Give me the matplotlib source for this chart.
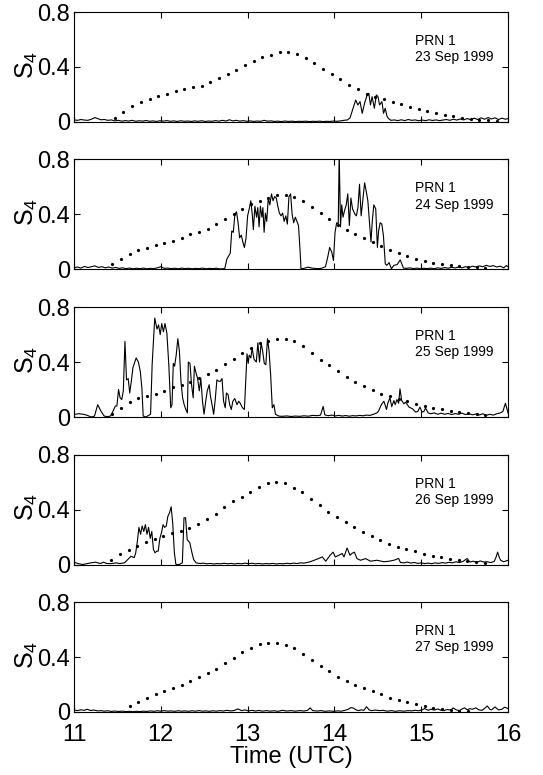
import numpy as np
import matplotlib
matplotlib.use("Agg")
import matplotlib.pyplot as plt

plt.rcParams["font.family"] = ["Liberation Sans", "DejaVu Sans"]
plt.rcParams["mathtext.fontset"] = "custom"
plt.rcParams["mathtext.rm"] = "Liberation Sans"

# -----------------------------
# Data
# -----------------------------
prn = "PRN 1"
dates = ["23 Sep 1999", "24 Sep 1999", "25 Sep 1999", "26 Sep 1999", "27 Sep 1999"]
x_ticks = [11, 12, 13, 14, 15, 16]
y_ticks = [0, 0.4, 0.8]
y_ticklabels = ["0", "0.4", "0.8"]

# S4 index, (time UTC, S4)
s4_23 = [
    (11.00, 0.015), (11.04, 0.012), (11.08, 0.018), (11.12, 0.014), (11.16, 0.012), (11.20, 0.02),
    (11.24, 0.032), (11.27, 0.025), (11.31, 0.016), (11.35, 0.018), (11.39, 0.012), (11.43, 0.015),
    (11.47, 0.008), (11.51, 0.012), (11.55, 0.006), (11.59, 0.01), (11.63, 0.007), (11.67, 0.012),
    (11.71, 0.005), (11.75, 0.009), (11.79, 0.006), (11.83, 0.011), (11.87, 0.005), (11.91, 0.008),
    (11.95, 0.004), (11.99, 0.009), (12.03, 0.006), (12.07, 0.01), (12.11, 0.005), (12.15, 0.008),
    (12.19, 0.004), (12.23, 0.009), (12.27, 0.005), (12.31, 0.007), (12.35, 0.004), (12.39, 0.008),
    (12.43, 0.005), (12.47, 0.009), (12.51, 0.004), (12.55, 0.007), (12.59, 0.005), (12.63, 0.01),
    (12.67, 0.006), (12.71, 0.012), (12.75, 0.007), (12.79, 0.016), (12.83, 0.008), (12.87, 0.012),
    (12.91, 0.006), (12.95, 0.01), (12.99, 0.005), (13.03, 0.008), (13.07, 0.004), (13.11, 0.007),
    (13.15, 0.005), (13.19, 0.012), (13.23, 0.006), (13.27, 0.008), (13.31, 0.004), (13.35, 0.006),
    (13.39, 0.003), (13.43, 0.007), (13.47, 0.004), (13.51, 0.006), (13.55, 0.003), (13.59, 0.005),
    (13.63, 0.004), (13.67, 0.006), (13.71, 0.003), (13.75, 0.005), (13.79, 0.004), (13.83, 0.006),
    (13.87, 0.003), (13.91, 0.005), (13.95, 0.004), (13.99, 0.007), (14.03, 0.005), (14.07, 0.008),
    (14.11, 0.012), (14.15, 0.015), (14.18, 0.03), (14.21, 0.09), (14.245, 0.16), (14.27, 0.124),
    (14.295, 0.148), (14.32, 0.063), (14.347, 0.136), (14.377, 0.197), (14.396, 0.209), (14.415, 0.124),
    (14.434, 0.184), (14.46, 0.1), (14.483, 0.197), (14.502, 0.184), (14.52, 0.124), (14.547, 0.148),
    (14.566, 0.063), (14.585, 0.1), (14.604, 0.045), (14.62, 0.027), (14.65, 0.012), (14.69, 0.015),
    (14.73, 0.01), (14.77, 0.016), (14.81, 0.01), (14.85, 0.018), (14.89, 0.012), (14.93, 0.015),
    (14.97, 0.009), (15.01, 0.014), (15.05, 0.01), (15.09, 0.016), (15.13, 0.011), (15.17, 0.015),
    (15.21, 0.01), (15.25, 0.014), (15.29, 0.018), (15.33, 0.012), (15.37, 0.02), (15.41, 0.014),
    (15.45, 0.022), (15.49, 0.015), (15.53, 0.025), (15.57, 0.016), (15.61, 0.028), (15.65, 0.018),
    (15.69, 0.03), (15.73, 0.02), (15.77, 0.032), (15.81, 0.022), (15.85, 0.03), (15.89, 0.018),
    (15.93, 0.028), (15.97, 0.02), (16.00, 0.025),
]

s4_24 = [
    (11.00, 0.012), (11.04, 0.018), (11.08, 0.01), (11.12, 0.022), (11.16, 0.014), (11.20, 0.02),
    (11.24, 0.026), (11.28, 0.015), (11.32, 0.02), (11.36, 0.012), (11.40, 0.018), (11.44, 0.01),
    (11.48, 0.015), (11.52, 0.008), (11.56, 0.012), (11.60, 0.006), (11.64, 0.01), (11.68, 0.005),
    (11.72, 0.009), (11.76, 0.006), (11.80, 0.01), (11.84, 0.005), (11.88, 0.008), (11.92, 0.006),
    (11.96, 0.012), (12.00, 0.02), (12.04, 0.008), (12.08, 0.01), (12.12, 0.006), (12.16, 0.009),
    (12.20, 0.005), (12.24, 0.01), (12.28, 0.006), (12.32, 0.009), (12.36, 0.005), (12.40, 0.008),
    (12.44, 0.006), (12.48, 0.01), (12.52, 0.005), (12.56, 0.008), (12.60, 0.006), (12.64, 0.009),
    (12.68, 0.004), (12.72, 0.006), (12.736, 0.005), (12.762, 0.077), (12.80, 0.118), (12.817, 0.28),
    (12.835, 0.27), (12.853, 0.40), (12.872, 0.42), (12.89, 0.34), (12.908, 0.23), (12.927, 0.25),
    (12.945, 0.2), (12.963, 0.16), (12.982, 0.23), (13.0, 0.39), (13.018, 0.44), (13.037, 0.5),
    (13.055, 0.39), (13.066, 0.29), (13.084, 0.46), (13.103, 0.38), (13.117, 0.45), (13.132, 0.31),
    (13.147, 0.46), (13.165, 0.38), (13.176, 0.45), (13.19, 0.27), (13.205, 0.41), (13.22, 0.35),
    (13.238, 0.52), (13.256, 0.47), (13.275, 0.55), (13.293, 0.5), (13.311, 0.53), (13.33, 0.52),
    (13.348, 0.46), (13.366, 0.41), (13.385, 0.39), (13.403, 0.41), (13.421, 0.35), (13.44, 0.39),
    (13.458, 0.33), (13.476, 0.53), (13.495, 0.55), (13.513, 0.40), (13.531, 0.34), (13.55, 0.38),
    (13.568, 0.35), (13.586, 0.32), (13.604, 0.14), (13.615, 0.005), (13.65, 0.008), (13.696, 0.017),
    (13.74, 0.01), (13.80, 0.006), (13.85, 0.008), (13.897, 0.02), (13.923, 0.09), (13.945, 0.16),
    (13.97, 0.125), (13.989, 0.065), (14.007, 0.27), (14.026, 0.34), (14.044, 0.33), (14.055, 0.85),
    (14.07, 0.31), (14.084, 0.47), (14.099, 0.38), (14.117, 0.43), (14.136, 0.47), (14.154, 0.55),
    (14.172, 0.32), (14.19, 0.52), (14.209, 0.44), (14.238, 0.40), (14.253, 0.39), (14.271, 0.45),
    (14.289, 0.62), (14.308, 0.39), (14.326, 0.50), (14.348, 0.63), (14.366, 0.57), (14.385, 0.50),
    (14.403, 0.35), (14.421, 0.2), (14.436, 0.35), (14.454, 0.47), (14.476, 0.44), (14.495, 0.16),
    (14.509, 0.28), (14.527, 0.34), (14.546, 0.33), (14.564, 0.25), (14.586, 0.04), (14.604, 0.03),
    (14.63, 0.05), (14.656, 0.005), (14.685, 0.03), (14.722, 0.035), (14.758, 0.07), (14.777, 0.04),
    (14.795, 0.01), (14.83, 0.008), (14.87, 0.012), (14.91, 0.006), (14.95, 0.01), (14.99, 0.005),
    (15.03, 0.009), (15.07, 0.006), (15.11, 0.01), (15.15, 0.005), (15.19, 0.012), (15.23, 0.008),
    (15.27, 0.014), (15.31, 0.009), (15.35, 0.016), (15.39, 0.011), (15.43, 0.018), (15.47, 0.012),
    (15.51, 0.02), (15.55, 0.014), (15.59, 0.024), (15.63, 0.018), (15.67, 0.026), (15.71, 0.02),
    (15.75, 0.03), (15.79, 0.022), (15.83, 0.028), (15.87, 0.018), (15.91, 0.024), (15.95, 0.012),
    (15.98, 0.028), (16.00, 0.02),
]

s4_25 = [
    (11.0, 0.018), (11.015, 0.02), (11.052, 0.024), (11.107, 0.02), (11.144, 0.014), (11.2, 0.0),
    (11.236, 0.007), (11.273, 0.09), (11.31, 0.043), (11.347, 0.007), (11.384, 0.003), (11.42, 0.007),
    (11.45, 0.043), (11.476, 0.08), (11.494, 0.08), (11.513, 0.2), (11.531, 0.14), (11.55, 0.127),
    (11.568, 0.19), (11.587, 0.55), (11.605, 0.27), (11.624, 0.28), (11.642, 0.175), (11.66, 0.26),
    (11.679, 0.36), (11.716, 0.43), (11.742, 0.40), (11.764, 0.33), (11.782, 0.21), (11.797, 0.007),
    (11.827, 0.0), (11.882, 0.02), (11.9, 0.38), (11.93, 0.72), (11.956, 0.64), (11.974, 0.67),
    (11.993, 0.6), (12.011, 0.68), (12.03, 0.62), (12.048, 0.68), (12.07, 0.61), (12.092, 0.38),
    (12.114, 0.067), (12.129, 0.09), (12.144, 0.39), (12.159, 0.37), (12.177, 0.45), (12.196, 0.57),
    (12.214, 0.48), (12.232, 0.26), (12.251, 0.14), (12.269, 0.09), (12.288, 0.055), (12.306, 0.03),
    (12.317, 0.40), (12.336, 0.39), (12.354, 0.235), (12.373, 0.14), (12.387, 0.37), (12.406, 0.32),
    (12.424, 0.28), (12.443, 0.19), (12.461, 0.28), (12.48, 0.115), (12.498, 0.02), (12.52, 0.127),
    (12.535, 0.19), (12.557, 0.235), (12.572, 0.15), (12.59, 0.09), (12.609, 0.02), (12.627, 0.127),
    (12.646, 0.27), (12.668, 0.26), (12.686, 0.26), (12.705, 0.28), (12.723, 0.115), (12.742, 0.067),
    (12.756, 0.175), (12.775, 0.163), (12.793, 0.09), (12.812, 0.055), (12.83, 0.115), (12.852, 0.135),
    (12.878, 0.09), (12.897, 0.115), (12.915, 0.1), (12.941, 0.067), (12.963, 0.055), (12.978, 0.26),
    (12.993, 0.46), (13.007, 0.39), (13.018, 0.45), (13.037, 0.43), (13.052, 0.5), (13.074, 0.42),
    (13.1, 0.40), (13.118, 0.54), (13.137, 0.40), (13.155, 0.54), (13.173, 0.48), (13.192, 0.39),
    (13.21, 0.38), (13.229, 0.57), (13.247, 0.48), (13.266, 0.3), (13.284, 0.067), (13.303, 0.09),
    (13.321, 0.02), (13.358, 0.007), (13.40, 0.005), (13.45, 0.008), (13.50, 0.004), (13.55, 0.007),
    (13.60, 0.005), (13.65, 0.009), (13.70, 0.006), (13.75, 0.012), (13.80, 0.01), (13.84, 0.014),
    (13.87, 0.077), (13.89, 0.015), (13.93, 0.01), (13.97, 0.014), (14.01, 0.008), (14.05, 0.012),
    (14.09, 0.007), (14.13, 0.011), (14.17, 0.006), (14.21, 0.01), (14.25, 0.008), (14.29, 0.012),
    (14.33, 0.009), (14.37, 0.014), (14.41, 0.012), (14.45, 0.02), (14.49, 0.03), (14.51, 0.045),
    (14.54, 0.09), (14.57, 0.115), (14.6, 0.055), (14.615, 0.1), (14.64, 0.14), (14.66, 0.075),
    (14.685, 0.12), (14.70, 0.09), (14.72, 0.127), (14.74, 0.1), (14.755, 0.205), (14.775, 0.12),
    (14.80, 0.096), (14.82, 0.108), (14.86, 0.072), (14.90, 0.06), (14.935, 0.036), (14.96, 0.04),
    (14.985, 0.072), (15.01, 0.036), (15.03, 0.04), (15.05, 0.065), (15.08, 0.03), (15.11, 0.024),
    (15.15, 0.03), (15.19, 0.02), (15.23, 0.028), (15.27, 0.02), (15.31, 0.026), (15.35, 0.018),
    (15.39, 0.025), (15.43, 0.02), (15.47, 0.028), (15.51, 0.018), (15.55, 0.024), (15.59, 0.016),
    (15.63, 0.022), (15.67, 0.015), (15.71, 0.024), (15.75, 0.012), (15.79, 0.02), (15.83, 0.014),
    (15.87, 0.024), (15.91, 0.03), (15.94, 0.04), (15.97, 0.1), (16.0, 0.03),
]

s4_26 = [
    (11.0, 0.017), (11.044, 0.007), (11.1, 0.0), (11.156, 0.007), (11.193, 0.012), (11.248, 0.017),
    (11.304, 0.007), (11.34, 0.017), (11.378, 0.007), (11.433, 0.007), (11.489, 0.012), (11.526, 0.007),
    (11.58, 0.012), (11.619, 0.036), (11.656, 0.06), (11.693, 0.05), (11.711, 0.085), (11.73, 0.17),
    (11.748, 0.27), (11.767, 0.22), (11.785, 0.28), (11.804, 0.24), (11.822, 0.29), (11.841, 0.22),
    (11.859, 0.27), (11.878, 0.19), (11.896, 0.24), (11.915, 0.11), (11.933, 0.085), (11.952, 0.097),
    (11.97, 0.097), (11.989, 0.19), (12.007, 0.23), (12.026, 0.29), (12.044, 0.27), (12.063, 0.28),
    (12.081, 0.35), (12.1, 0.376), (12.119, 0.42), (12.137, 0.30), (12.156, 0.085), (12.174, 0.0),
    (12.211, 0.0), (12.248, 0.012), (12.267, 0.34), (12.285, 0.34), (12.304, 0.18), (12.333, 0.16),
    (12.359, 0.085), (12.378, 0.036), (12.407, 0.012), (12.45, 0.007), (12.49, 0.01), (12.53, 0.005),
    (12.57, 0.008), (12.61, 0.004), (12.65, 0.007), (12.69, 0.005), (12.73, 0.009), (12.77, 0.005),
    (12.81, 0.008), (12.85, 0.004), (12.89, 0.008), (12.93, 0.005), (12.97, 0.01), (13.01, 0.006),
    (13.05, 0.009), (13.09, 0.005), (13.13, 0.008), (13.17, 0.004), (13.21, 0.007), (13.25, 0.005),
    (13.29, 0.008), (13.33, 0.004), (13.37, 0.007), (13.41, 0.005), (13.45, 0.009), (13.49, 0.006),
    (13.53, 0.01), (13.57, 0.007), (13.61, 0.012), (13.65, 0.01), (13.69, 0.016), (13.72, 0.02),
    (13.80, 0.039), (13.86, 0.055), (13.90, 0.024), (13.95, 0.067), (13.985, 0.09), (14.01, 0.055),
    (14.05, 0.067), (14.09, 0.08), (14.11, 0.055), (14.146, 0.12), (14.18, 0.067), (14.20, 0.08),
    (14.23, 0.09), (14.26, 0.043), (14.30, 0.031), (14.36, 0.043), (14.415, 0.024), (14.49, 0.031),
    (14.57, 0.02), (14.63, 0.024), (14.685, 0.031), (14.74, 0.044), (14.76, 0.015), (14.80, 0.012),
    (14.84, 0.018), (14.88, 0.01), (14.92, 0.015), (14.96, 0.008), (15.00, 0.012), (15.04, 0.007),
    (15.08, 0.01), (15.12, 0.006), (15.16, 0.012), (15.20, 0.008), (15.24, 0.014), (15.28, 0.01),
    (15.32, 0.016), (15.36, 0.012), (15.40, 0.02), (15.44, 0.014), (15.48, 0.022), (15.53, 0.044),
    (15.56, 0.018), (15.60, 0.024), (15.64, 0.016), (15.68, 0.026), (15.72, 0.018), (15.76, 0.02),
    (15.80, 0.014), (15.84, 0.022), (15.86, 0.05), (15.88, 0.09), (15.90, 0.05), (15.915, 0.031),
    (15.95, 0.02), (16.0, 0.031),
]

s4_27 = [
    (11.00, 0.015), (11.04, 0.01), (11.08, 0.016), (11.12, 0.012), (11.15, 0.02), (11.19, 0.011),
    (11.23, 0.014), (11.27, 0.008), (11.31, 0.01), (11.35, 0.006), (11.39, 0.009), (11.43, 0.004),
    (11.47, 0.007), (11.51, 0.004), (11.56, 0.006), (11.60, 0.003), (11.64, 0.005), (11.68, 0.002),
    (11.72, 0.005), (11.76, 0.003), (11.80, 0.006), (11.84, 0.004), (11.88, 0.008), (11.92, 0.005),
    (11.96, 0.009), (12.00, 0.006), (12.04, 0.01), (12.08, 0.006), (12.12, 0.008), (12.16, 0.005),
    (12.20, 0.009), (12.24, 0.006), (12.28, 0.008), (12.32, 0.005), (12.36, 0.009), (12.40, 0.006),
    (12.44, 0.01), (12.48, 0.006), (12.52, 0.008), (12.56, 0.005), (12.60, 0.009), (12.64, 0.006),
    (12.68, 0.01), (12.72, 0.007), (12.76, 0.012), (12.80, 0.008), (12.84, 0.01), (12.89, 0.022),
    (12.93, 0.01), (12.97, 0.015), (13.01, 0.008), (13.05, 0.012), (13.09, 0.007), (13.13, 0.011),
    (13.17, 0.006), (13.22, 0.01), (13.26, 0.006), (13.30, 0.009), (13.35, 0.005), (13.40, 0.012),
    (13.45, 0.007), (13.50, 0.01), (13.55, 0.006), (13.60, 0.01), (13.65, 0.007), (13.69, 0.012),
    (13.72, 0.03), (13.75, 0.01), (13.80, 0.007), (13.85, 0.01), (13.89, 0.005), (13.94, 0.008),
    (13.99, 0.005), (14.04, 0.008), (14.08, 0.006), (14.12, 0.012), (14.16, 0.02), (14.19, 0.032),
    (14.22, 0.028), (14.25, 0.015), (14.28, 0.01), (14.31, 0.016), (14.34, 0.012), (14.37, 0.038),
    (14.40, 0.015), (14.43, 0.01), (14.47, 0.014), (14.52, 0.01), (14.56, 0.012), (14.61, 0.006),
    (14.66, 0.01), (14.70, 0.005), (14.75, 0.009), (14.80, 0.006), (14.85, 0.01), (14.89, 0.008),
    (14.93, 0.012), (14.97, 0.009), (15.01, 0.015), (15.04, 0.025), (15.08, 0.012), (15.11, 0.02),
    (15.15, 0.014), (15.19, 0.022), (15.23, 0.012), (15.26, 0.01), (15.30, 0.018), (15.34, 0.014),
    (15.37, 0.03), (15.40, 0.016), (15.44, 0.01), (15.47, 0.022), (15.50, 0.03), (15.53, 0.016),
    (15.56, 0.024), (15.59, 0.02), (15.63, 0.03), (15.66, 0.016), (15.70, 0.012), (15.73, 0.026),
    (15.76, 0.044), (15.79, 0.02), (15.81, 0.015), (15.85, 0.037), (15.89, 0.015), (15.93, 0.02),
    (15.96, 0.035), (16.00, 0.025),
]

# dotted reference curve: first sample time, then one value every 0.1 h
elev_start = [11.47, 11.44, 11.44, 11.43, 11.64]
elev_step = 0.1
elev_23 = [0.032, 0.073, 0.115, 0.147, 0.169, 0.188, 0.205, 0.222, 0.237, 0.254, 0.265, 0.289,
           0.318, 0.35, 0.379, 0.413, 0.443, 0.472, 0.489, 0.506, 0.506, 0.496, 0.465, 0.428,
           0.386, 0.35, 0.31, 0.269, 0.237, 0.203, 0.183, 0.166, 0.147, 0.13, 0.11, 0.098,
           0.081, 0.068, 0.054, 0.042, 0.032, 0.022, 0.017, 0.012, 0.007]
elev_24 = [0.039, 0.075, 0.109, 0.141, 0.155, 0.175, 0.19, 0.21, 0.23, 0.255, 0.27, 0.296,
           0.33, 0.366, 0.40, 0.44, 0.475, 0.50, 0.52, 0.54, 0.545, 0.53, 0.50, 0.455,
           0.414, 0.366, 0.325, 0.287, 0.258, 0.227, 0.2, 0.173, 0.145, 0.12, 0.095, 0.075,
           0.06, 0.046, 0.039, 0.032, 0.024, 0.02, 0.015, 0.01]
elev_25 = [0.02, 0.063, 0.108, 0.135, 0.156, 0.17, 0.19, 0.216, 0.235, 0.255, 0.284, 0.315,
           0.344, 0.385, 0.423, 0.464, 0.50, 0.536, 0.555, 0.57, 0.566, 0.55, 0.515, 0.465,
           0.418, 0.378, 0.333, 0.29, 0.258, 0.229, 0.196, 0.17, 0.15, 0.13, 0.113, 0.096,
           0.078, 0.066, 0.055, 0.047, 0.04, 0.032, 0.025, 0.018]
elev_26 = [0.032, 0.073, 0.104, 0.133, 0.165, 0.187, 0.206, 0.226, 0.243, 0.267, 0.296, 0.33,
           0.37, 0.42, 0.46, 0.49, 0.53, 0.565, 0.59, 0.60, 0.59, 0.56, 0.525, 0.48,
           0.43, 0.385, 0.345, 0.31, 0.27, 0.24, 0.21, 0.175, 0.15, 0.13, 0.11, 0.095,
           0.08, 0.065, 0.052, 0.04, 0.03, 0.022, 0.015, 0.01]
elev_27 = [0.04, 0.074, 0.099, 0.131, 0.153, 0.173, 0.193, 0.222, 0.257, 0.286, 0.316, 0.358,
           0.395, 0.44, 0.469, 0.494, 0.504, 0.504, 0.486, 0.462, 0.425, 0.378, 0.338, 0.296,
           0.254, 0.222, 0.193, 0.173, 0.153, 0.131, 0.104, 0.089, 0.072, 0.055, 0.042, 0.03,
           0.02, 0.012, 0.008, 0.005]

s4_all = [s4_23, s4_24, s4_25, s4_26, s4_27]
elev_all = [elev_23, elev_24, elev_25, elev_26, elev_27]

# -----------------------------
# Figure
# -----------------------------
fig = plt.figure(figsize=(5.43, 7.75), dpi=100)

left, width, height = 0.1363, 0.7993, 0.1419
bottoms = [0.8426, 0.6523, 0.4619, 0.2716, 0.0813]

for i in range(5):
    ax = fig.add_axes([left, bottoms[i], width, height])

    t, s4 = np.array(s4_all[i]).T
    ax.plot(t, s4, color="k", lw=0.8)

    te = elev_start[i] + elev_step * np.arange(len(elev_all[i]))
    ax.plot(te, elev_all[i], linestyle="none", marker="o", ms=2.3, mew=0, color="k")

    ax.set_xlim(11, 16)
    ax.set_ylim(0, 0.8)
    ax.set_xticks(x_ticks)
    ax.set_yticks(y_ticks)
    ax.set_yticklabels(y_ticklabels)
    ax.tick_params(direction="in", top=True, right=True, length=4, labelsize=17)
    ax.tick_params(axis="y", pad=3)
    ax.tick_params(axis="x", pad=9)
    if i < 4:
        ax.set_xticklabels([])
    else:
        ax.set_xlabel("Time (UTC)", fontsize=17, labelpad=0)

    ax.set_ylabel(r"$\mathrm{S_4}$", fontsize=18)
    ax.yaxis.set_label_coords(-0.078, 0.52)

    ax.text(14.93, 0.64, prn + "\n" + dates[i], fontsize=10, va="top", ha="left", linespacing=1.2)

fig.savefig("out.png", dpi=100)
